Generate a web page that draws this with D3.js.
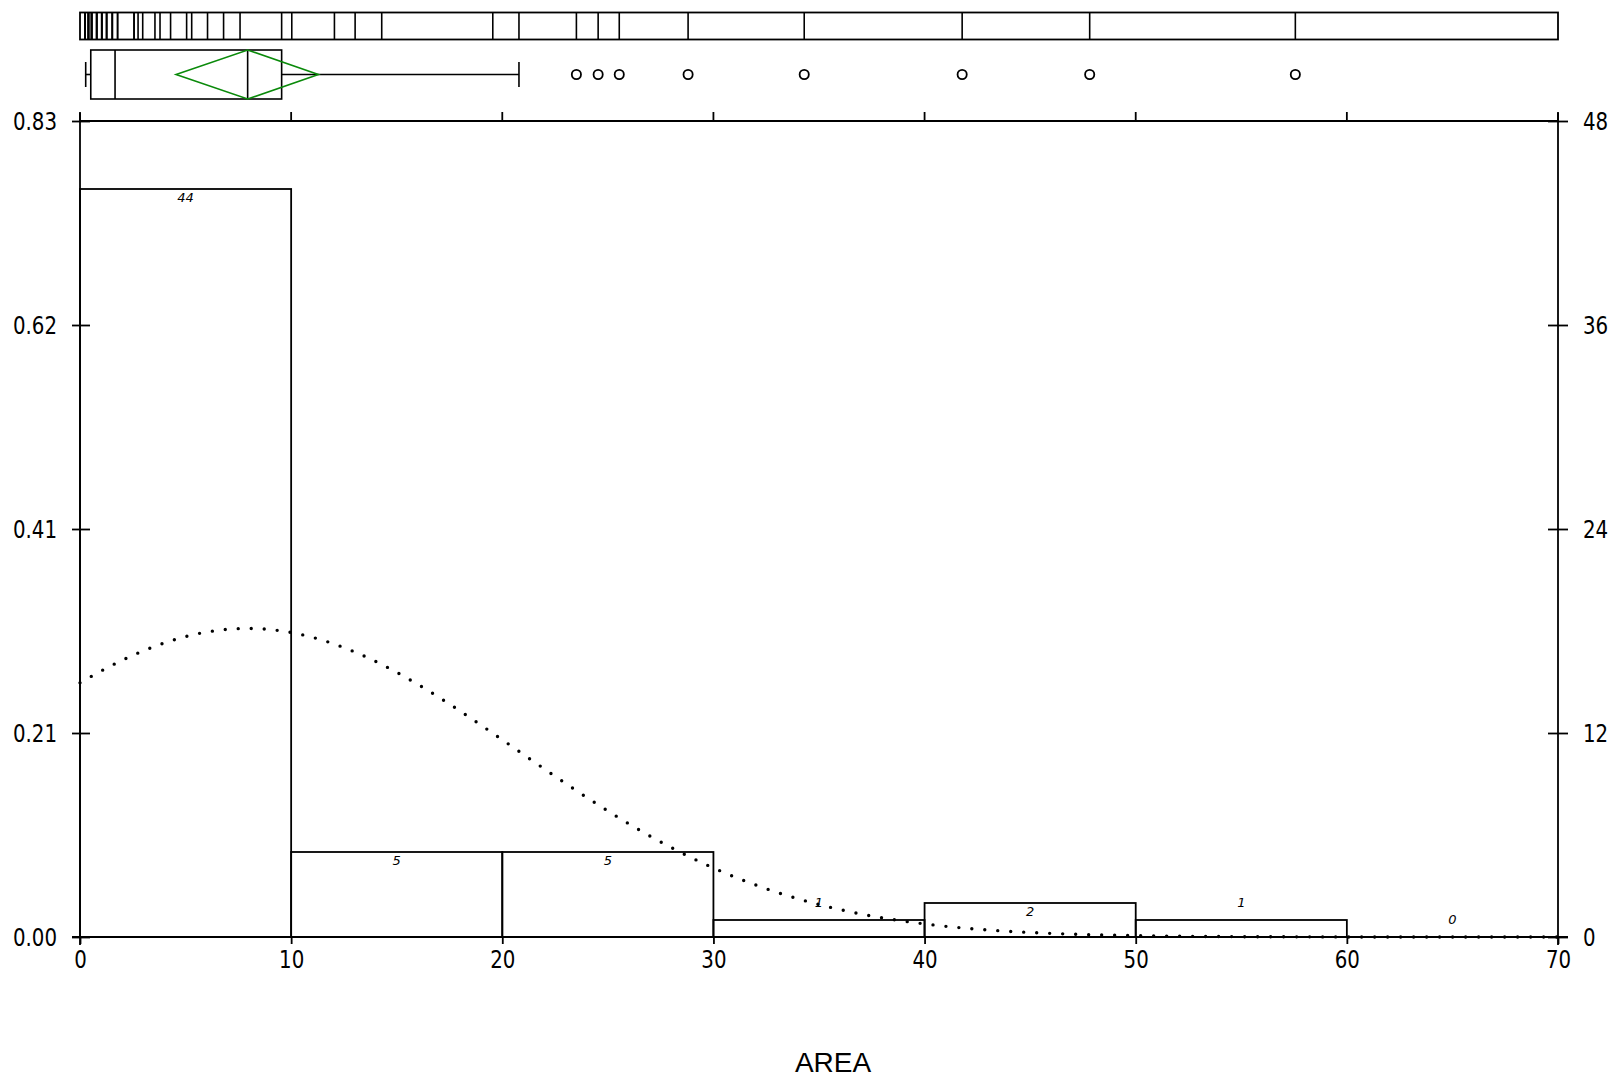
<!DOCTYPE html>
<html><head><meta charset="utf-8">
<script src="https://cdn.jsdelivr.net/npm/d3@7"></script>
<style>body{margin:0;background:#fff} svg{display:block}</style>
</head><body><svg id="c" width="1617" height="1081"></svg>
<script>
// ---- data ----
const binEdges = [0, 10, 20, 30, 40, 50, 60, 70];
const binCounts = [44, 5, 5, 1, 2, 1, 0];
const totalN = 58;
const xTicks = [0, 10, 20, 30, 40, 50, 60, 70];
const countTicks = [0, 12, 24, 36, 48];
const propTickLabels = ["0.00", "0.21", "0.41", "0.62", "0.83"];
const rugValues = [
  0.24, 0.24, 0.24, 0.24, 0.24, 0.40, 0.40, 0.40, 0.40, 0.40,
  0.55, 0.55, 0.55, 0.55, 0.55, 0.79, 0.79, 0.79, 0.79, 1.03,
  1.03, 1.03, 1.03, 1.26, 1.26, 1.26, 1.53, 1.53, 1.53, 1.78,
  1.78, 2.56, 2.56, 2.75, 2.97, 3.55, 3.79, 4.29, 5.05, 5.29,
  6.04, 6.80, 7.58, 9.55, 10.03, 12.05, 13.03, 14.29, 19.55, 20.79,
  23.51, 24.54, 25.54, 28.80, 34.30, 41.78, 47.82, 57.56
];
const boxMin = 0.27, boxQ1 = 0.51, boxMedian = 1.66, boxQ3 = 9.55, boxWhiskerHi = 20.79;
const meanValue = 7.94, meanCiLo = 4.55, meanCiHi = 11.29;
const normalMean = 7.94, normalSd = 12.75;
const xLabel = "AREA";

// ---- drawing ----
const svg = d3.select("#c");
const x = d3.scaleLinear().domain([0, 70]).range([80, 1558]);
const y = d3.scaleLinear().domain([0, 48]).range([937, 121]);
const tickFont = "'Liberation Sans Narrow','DejaVu Sans Condensed','Arial Narrow',sans-serif";

// rug strip
const rugTop = 12.5, rugBot = 39.5;
svg.append("rect").attr("x", x(0)).attr("y", rugTop).attr("width", x(70) - x(0)).attr("height", rugBot - rugTop)
  .attr("fill", "none").attr("stroke", "#000").attr("stroke-width", 1.8);
svg.append("g").selectAll("line").data(rugValues).join("line")
  .attr("x1", d => x(d)).attr("x2", d => x(d)).attr("y1", rugTop).attr("y2", rugBot)
  .attr("stroke", "#000").attr("stroke-width", 1.6);

// box plot
const bTop = 50, bBot = 99, bMid = 74.5;
const g = svg.append("g").attr("stroke", "#000").attr("stroke-width", 1.6).attr("fill", "none");
g.append("line").attr("x1", x(boxMin)).attr("x2", x(boxQ1)).attr("y1", bMid).attr("y2", bMid);
g.append("line").attr("x1", x(boxMin)).attr("x2", x(boxMin)).attr("y1", bMid - 12.5).attr("y2", bMid + 12.5);
g.append("line").attr("x1", x(boxQ3)).attr("x2", x(boxWhiskerHi)).attr("y1", bMid).attr("y2", bMid);
g.append("line").attr("x1", x(boxWhiskerHi)).attr("x2", x(boxWhiskerHi)).attr("y1", bMid - 12.5).attr("y2", bMid + 12.5);
g.append("rect").attr("x", x(boxQ1)).attr("y", bTop).attr("width", x(boxQ3) - x(boxQ1)).attr("height", bBot - bTop);
g.append("line").attr("x1", x(boxMedian)).attr("x2", x(boxMedian)).attr("y1", bTop).attr("y2", bBot);
g.append("line").attr("x1", x(meanValue)).attr("x2", x(meanValue)).attr("y1", bTop).attr("y2", bBot);
svg.append("path")
  .attr("d", `M${x(meanCiLo)},${bMid}L${x(meanValue)},${bTop}L${x(meanCiHi)},${bMid}L${x(meanValue)},${bBot}Z`)
  .attr("fill", "none").attr("stroke", "#0a8a0a").attr("stroke-width", 1.6);
svg.append("g").selectAll("circle").data(rugValues.filter(d => d > boxWhiskerHi)).join("circle")
  .attr("cx", d => x(d)).attr("cy", bMid).attr("r", 4.6)
  .attr("fill", "none").attr("stroke", "#000").attr("stroke-width", 1.8);

// histogram bars
const bins = binCounts.map((c, i) => ({c, x0: binEdges[i], x1: binEdges[i + 1]}));
svg.append("g").selectAll("rect").data(bins).join("rect")
  .attr("x", d => x(d.x0)).attr("y", d => y(d.c))
  .attr("width", d => x(d.x1) - x(d.x0)).attr("height", d => y(0) - y(d.c))
  .attr("fill", "none").attr("stroke", "#000").attr("stroke-width", 1.8);
svg.append("g").selectAll("text").data(bins).join("text")
  .attr("x", d => x((d.x0 + d.x1) / 2))
  .attr("y", d => d.c >= 2 ? y(d.c) + 13 : y(d.c) - 13)
  .attr("text-anchor", "middle")
  .attr("font-family", "'DejaVu Sans',sans-serif").attr("font-style", "italic").attr("font-size", 13)
  .text(d => d.c);

// normal curve (dotted)
const pts = d3.range(0, 70.001, 0.1).map(v => [v,
  totalN * 10 * Math.exp(-0.5 * ((v - normalMean) / normalSd) ** 2) / (normalSd * Math.sqrt(2 * Math.PI))]);
svg.append("path").datum(pts)
  .attr("d", d3.line().x(d => x(d[0])).y(d => y(d[1])))
  .attr("fill", "none").attr("stroke", "#000").attr("stroke-width", 3.4)
  .attr("stroke-linecap", "round").attr("stroke-dasharray", "0 13");

// frame
const fr = svg.append("g").attr("stroke", "#000").attr("stroke-width", 1.8);
fr.append("line").attr("x1", x(0)).attr("x2", x(0)).attr("y1", y(48) - 8).attr("y2", y(0) + 8);
fr.append("line").attr("x1", x(70)).attr("x2", x(70)).attr("y1", y(48) - 8).attr("y2", y(0) + 8);
fr.append("line").attr("x1", x(0)).attr("x2", x(70)).attr("y1", y(48)).attr("y2", y(48));
fr.append("line").attr("x1", x(0) - 8).attr("x2", x(70) + 10).attr("y1", y(0)).attr("y2", y(0));
fr.selectAll(".tt").data(xTicks).join("line").attr("class", "tt")
  .attr("x1", d => x(d)).attr("x2", d => x(d)).attr("y1", y(48) - 9).attr("y2", y(48));

function styleAxis(sel) {
  sel.select(".domain").remove();
  sel.selectAll(".tick line").attr("stroke", "#000").attr("stroke-width", 1.8);
  sel.selectAll(".tick text").attr("fill", "#000").attr("font-family", tickFont).attr("font-size", 25)
    .each(function () {
      const w = this.getComputedTextLength();
      d3.select(this).attr("textLength", w * 0.88).attr("lengthAdjust", "spacingAndGlyphs");
    });
}
svg.append("g").attr("transform", `translate(${x(0)},0)`)
  .call(d3.axisLeft(y).tickValues(countTicks).tickFormat((d, i) => propTickLabels[i]).tickSize(8).tickPadding(15))
  .call(styleAxis).call(s => s.selectAll(".tick line").attr("x1", 10));
svg.append("g").attr("transform", `translate(${x(70)},0)`)
  .call(d3.axisRight(y).tickValues(countTicks).tickSize(10).tickPadding(15))
  .call(styleAxis).call(s => s.selectAll(".tick line").attr("x1", -10));
svg.append("g").attr("transform", `translate(0,${y(0)})`)
  .call(d3.axisBottom(x).tickValues(xTicks).tickSize(7).tickPadding(6))
  .call(styleAxis);

svg.append("text").attr("x", 833).attr("y", 1072).attr("text-anchor", "middle")
  .attr("font-family", "'Liberation Sans',Arial,sans-serif").attr("font-size", 28).text(xLabel);
</script></body></html>
